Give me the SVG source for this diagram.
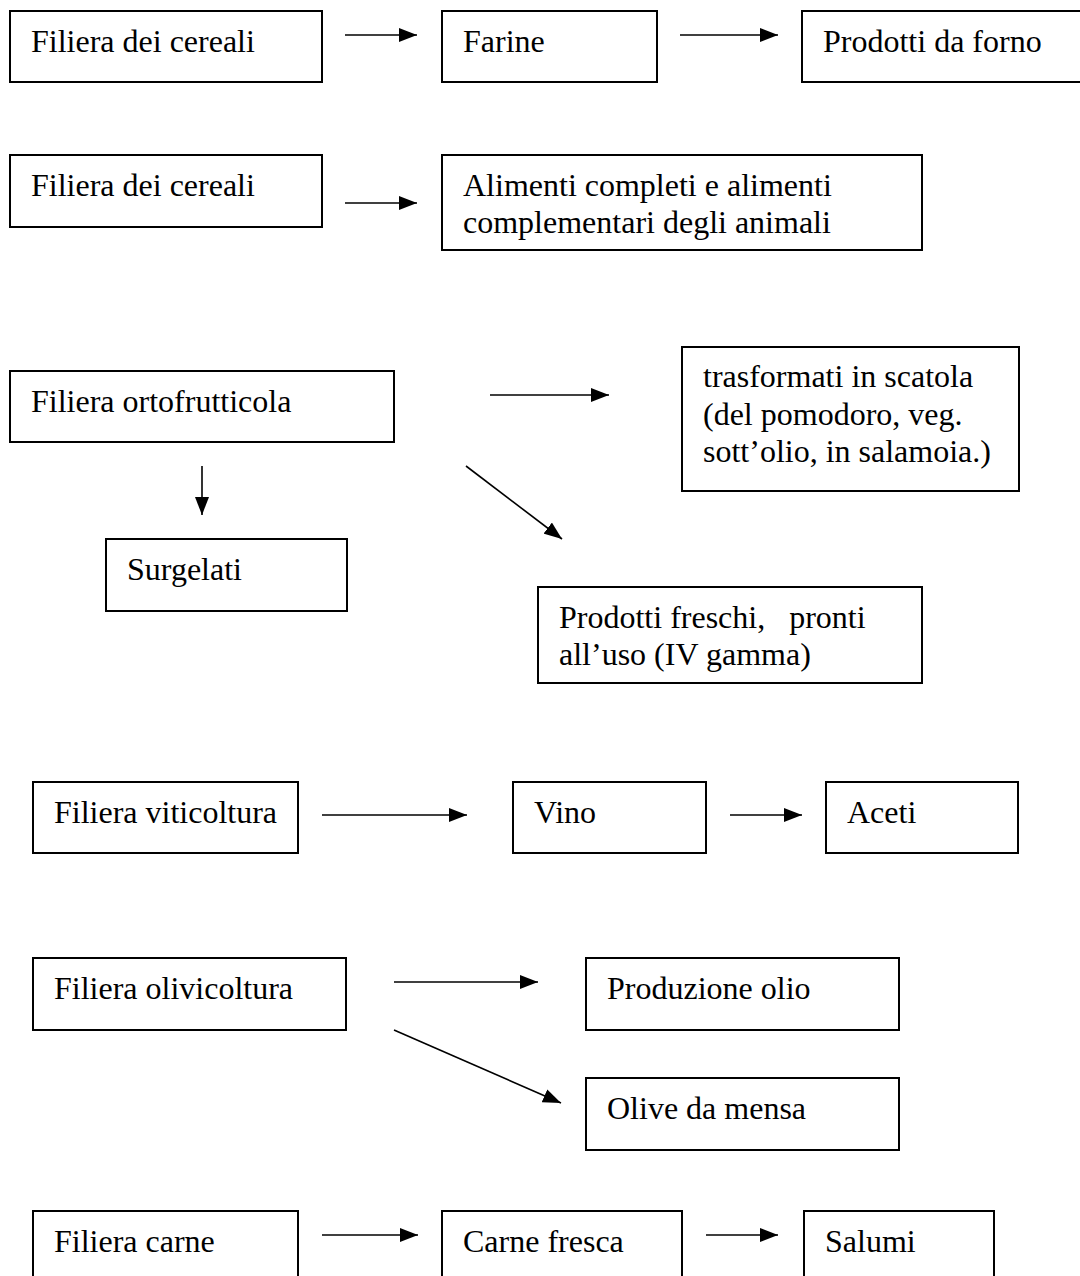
<svg xmlns="http://www.w3.org/2000/svg" width="1080" height="1276" viewBox="0 0 1080 1276">
<style>
.box{fill:#fff;stroke:#000;stroke-width:2}
.t{font-family:"Liberation Serif","Times New Roman",serif;font-size:32px;fill:#000;white-space:pre}
.c line{stroke:#000;stroke-width:1.6;marker-end:url(#ah)}
</style>
<defs>
<marker id="ah" markerUnits="userSpaceOnUse" markerWidth="18" markerHeight="14" refX="18" refY="7" orient="auto">
<path d="M0,0 L18,7 L0,14 z" fill="#000"/>
</marker>
</defs>
<rect width="1080" height="1276" fill="#fff"/>
<g id="n1"><rect class="box" x="10" y="11" width="312" height="71"/><text class="t" x="31" y="52">Filiera dei cereali</text></g>
<g id="n2"><rect class="box" x="442" y="11" width="215" height="71"/><text class="t" x="463" y="52">Farine</text></g>
<g id="n3"><rect class="box" x="802" y="11" width="290" height="71"/><text class="t" x="823" y="52">Prodotti da forno</text></g>
<g id="n4"><rect class="box" x="10" y="155" width="312" height="72"/><text class="t" x="31" y="196">Filiera dei cereali</text></g>
<g id="n5"><rect class="box" x="442" y="155" width="480" height="95"/><text class="t" x="463" y="196">Alimenti completi e alimenti</text><text class="t" x="463" y="233">complementari degli animali</text></g>
<g id="n6"><rect class="box" x="10" y="371" width="384" height="71"/><text class="t" x="31" y="412">Filiera ortofrutticola</text></g>
<g id="n7"><rect class="box" x="682" y="347" width="337" height="144"/><text class="t" x="703" y="387">trasformati in scatola</text><text class="t" x="703" y="425">(del pomodoro, veg.</text><text class="t" x="703" y="462">sott’olio, in salamoia.)</text></g>
<g id="n8"><rect class="box" x="106" y="539" width="241" height="72"/><text class="t" x="127" y="580">Surgelati</text></g>
<g id="n9"><rect class="box" x="538" y="587" width="384" height="96"/><text class="t" x="559" y="628">Prodotti freschi,   pronti</text><text class="t" x="559" y="665">all’uso (IV gamma)</text></g>
<g id="n10"><rect class="box" x="33" y="782" width="265" height="71"/><text class="t" x="54" y="823">Filiera viticoltura</text></g>
<g id="n11"><rect class="box" x="513" y="782" width="193" height="71"/><text class="t" x="534" y="823">Vino</text></g>
<g id="n12"><rect class="box" x="826" y="782" width="192" height="71"/><text class="t" x="847" y="823">Aceti</text></g>
<g id="n13"><rect class="box" x="33" y="958" width="313" height="72"/><text class="t" x="54" y="999">Filiera olivicoltura</text></g>
<g id="n14"><rect class="box" x="586" y="958" width="313" height="72"/><text class="t" x="607" y="999">Produzione olio</text></g>
<g id="n15"><rect class="box" x="586" y="1078" width="313" height="72"/><text class="t" x="607" y="1119">Olive da mensa</text></g>
<g id="n16"><rect class="box" x="33" y="1211" width="265" height="80"/><text class="t" x="54" y="1252">Filiera carne</text></g>
<g id="n17"><rect class="box" x="442" y="1211" width="240" height="80"/><text class="t" x="463" y="1252">Carne fresca</text></g>
<g id="n18"><rect class="box" x="804" y="1211" width="190" height="80"/><text class="t" x="825" y="1252">Salumi</text></g>
<g id="connectors" class="c">
<line x1="345" y1="35" x2="417" y2="35"/>
<line x1="680" y1="35" x2="778" y2="35"/>
<line x1="345" y1="203" x2="417" y2="203"/>
<line x1="490" y1="395" x2="609" y2="395"/>
<line x1="202" y1="466" x2="202" y2="515"/>
<line x1="466" y1="466" x2="562" y2="539"/>
<line x1="322" y1="815" x2="467" y2="815"/>
<line x1="730" y1="815" x2="802" y2="815"/>
<line x1="394" y1="982" x2="538" y2="982"/>
<line x1="394" y1="1030" x2="561" y2="1103"/>
<line x1="322" y1="1235" x2="418" y2="1235"/>
<line x1="706" y1="1235" x2="778" y2="1235"/>
</g>
</svg>
